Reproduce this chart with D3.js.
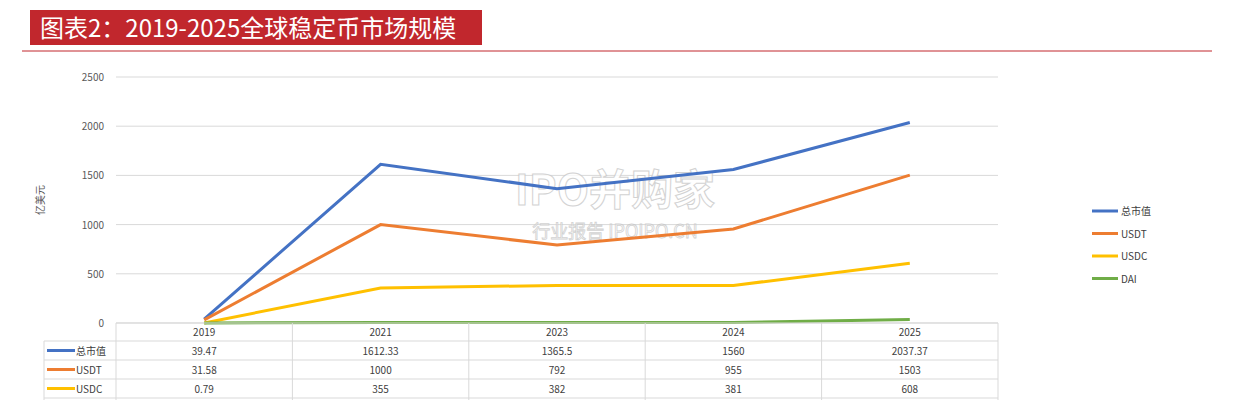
<!DOCTYPE html>
<html><head><meta charset="utf-8">
<script src="https://cdn.jsdelivr.net/npm/d3@7"></script>
<style>body{margin:0;background:#fff;font-family:"Noto Sans CJK SC","Noto Sans",sans-serif}</style>
</head><body><div id="chart"></div>
<script>
const years = ["2019", "2021", "2023", "2024", "2025"];
const seriesNames = ["总市值", "USDT", "USDC", "DAI"];
const colors = ["#4472c4", "#ed7d31", "#ffc000", "#70ad47"];
const total = [39.47, 1612.33, 1365.5, 1560, 2037.37];
const usdt = [31.58, 1000, 792, 955, 1503];
const usdc = [0.79, 355, 382, 381, 608];
const dai = [0.1, 5, 5, 5, 35];
const yTicks = [0, 500, 1000, 1500, 2000, 2500];
const series = [total, usdt, usdc, dai];

const svg = d3.select("#chart").append("svg").attr("width", 1234).attr("height", 400);

// title
svg.append("rect").attr("x", 30).attr("y", 10).attr("width", 452).attr("height", 35).attr("fill", "#c1272d");
svg.append("text").attr("x", 40).attr("y", 37).attr("fill", "#fff").attr("font-size", 24).text("图表2：2019-2025全球稳定币市场规模");
svg.append("line").attr("x1", 22).attr("x2", 1212).attr("y1", 51).attr("y2", 51).attr("stroke", "#c1272d").attr("stroke-width", 1);

const x = d3.scaleBand().domain(years).range([116, 998]);
const y = d3.scaleLinear().domain([0, 2500]).range([323, 77]);

// grid
svg.append("g").selectAll("line").data(yTicks).join("line")
  .attr("x1", 116).attr("x2", 998).attr("y1", d => y(d)).attr("y2", d => y(d))
  .attr("stroke", "#d9d9d9");
svg.append("g").selectAll("text").data(yTicks).join("text")
  .attr("x", 104).attr("y", d => y(d) + 4).attr("text-anchor", "end")
  .attr("font-size", 10).attr("fill", "#595959").text(d => d);
svg.append("text").attr("transform", "translate(44,200) rotate(-90)").attr("text-anchor", "middle")
  .attr("font-size", 10).attr("fill", "#595959").text("亿美元");

// watermark
svg.append("text").attr("x", 615).attr("y", 205).attr("text-anchor", "middle").attr("font-size", 42)
  .attr("font-weight", "bold").attr("fill", "#ffffff").attr("stroke", "#c8c8c8").attr("stroke-width", 1).attr("opacity", 0.8).text("IPO并购家");
svg.append("text").attr("x", 615).attr("y", 238).attr("text-anchor", "middle").attr("font-size", 18)
  .attr("fill", "#ffffff").attr("stroke", "#c8c8c8").attr("stroke-width", 0.8).attr("opacity", 0.8).text("行业报告 IPOIPO.CN");

// lines
const line = d3.line().x((d, i) => x(years[i]) + x.bandwidth() / 2).y(d => y(d));
series.forEach((s, k) => {
  svg.append("path").datum(s).attr("d", line).attr("fill", "none")
    .attr("stroke", colors[k]).attr("stroke-width", 3);
});

// data table
const rowH = 19, tblTop = 323;
const tbl = svg.append("g").attr("font-size", 10).attr("fill", "#404040");
const rowsShown = [total, usdt, usdc];
tbl.append("line").attr("x1", 116).attr("x2", 998).attr("y1", tblTop).attr("y2", tblTop).attr("stroke", "#d9d9d9");
for (let r = 0; r < 4; r++) {
  const yy = tblTop + 18 + r * rowH;
  tbl.append("line").attr("x1", 44).attr("x2", 998).attr("y1", yy).attr("y2", yy).attr("stroke", "#d9d9d9");
}
years.forEach(yr => {
  tbl.append("line").attr("x1", x(yr)).attr("x2", x(yr)).attr("y1", tblTop).attr("y2", 400).attr("stroke", "#d9d9d9");
  tbl.append("text").attr("x", x(yr) + x.bandwidth() / 2).attr("y", tblTop + 13).attr("text-anchor", "middle").text(yr);
});
tbl.append("line").attr("x1", 998).attr("x2", 998).attr("y1", tblTop).attr("y2", 400).attr("stroke", "#d9d9d9");
tbl.append("line").attr("x1", 44).attr("x2", 44).attr("y1", tblTop + 18).attr("y2", 400).attr("stroke", "#d9d9d9");
rowsShown.forEach((s, k) => {
  const cy = tblTop + 18 + k * rowH + rowH / 2;
  tbl.append("line").attr("x1", 47).attr("x2", 75).attr("y1", cy).attr("y2", cy).attr("stroke", colors[k]).attr("stroke-width", 3);
  tbl.append("text").attr("x", 76).attr("y", cy + 4).text(seriesNames[k]);
  s.forEach((v, i) => {
    tbl.append("text").attr("x", x(years[i]) + x.bandwidth() / 2).attr("y", cy + 4).attr("text-anchor", "middle").text(v);
  });
});

// legend
const lg = svg.append("g").attr("font-size", 10).attr("fill", "#404040");
seriesNames.forEach((n, k) => {
  const ly = 211 + k * 22.5;
  lg.append("line").attr("x1", 1092).attr("x2", 1118).attr("y1", ly).attr("y2", ly).attr("stroke", colors[k]).attr("stroke-width", 3);
  lg.append("text").attr("x", 1121).attr("y", ly + 4).text(n);
});
</script></body></html>
